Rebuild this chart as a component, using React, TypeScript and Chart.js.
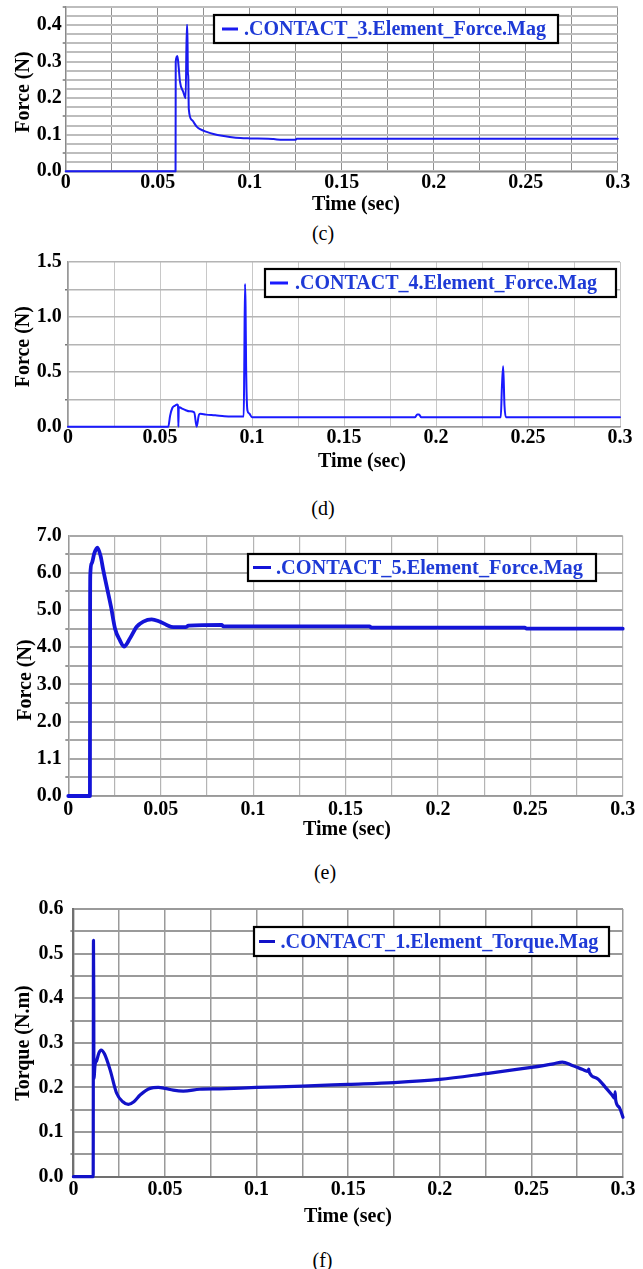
import React, { useEffect, useRef } from 'react';
import { Chart, registerables } from 'chart.js';

Chart.register(...registerables);

// ---------- shared axis labels ----------
const xTickLabels = ['0', '0.05', '0.1', '0.15', '0.2', '0.25', '0.3'];
const xTitle = 'Time (sec)';

// ---------- (c) CONTACT_3 ----------
const timeC = [0, 0.0597, 0.0598, 0.0607, 0.0614, 0.0621, 0.0639, 0.0652, 0.0658, 0.0661, 0.0664, 0.0666, 0.0669, 0.0686, 0.0712, 0.073, 0.077, 0.0803, 0.085, 0.0892, 0.095, 0.1, 0.11, 0.113, 0.118, 0.125, 0.1255, 0.15, 0.2, 0.25, 0.3];
const forceC = [0, 0, 0.30, 0.315, 0.285, 0.245, 0.217, 0.20, 0.40, 0.40, 0.27, 0.26, 0.17, 0.14, 0.122, 0.115, 0.107, 0.102, 0.097, 0.094, 0.091, 0.090, 0.089, 0.088, 0.086, 0.086, 0.089, 0.089, 0.089, 0.089, 0.089];
const yLabelsC = ['0.0', '0.1', '0.2', '0.3', '0.4'];
const legendC = '.CONTACT_3.Element_Force.Mag';

// ---------- (d) CONTACT_4 ----------
const timeD = [0, 0.0545, 0.0555, 0.0567, 0.058, 0.0594, 0.0598, 0.06, 0.0602, 0.062, 0.064, 0.066, 0.0686, 0.0699, 0.0712, 0.072, 0.075, 0.08, 0.085, 0.09, 0.0955, 0.0958, 0.0962, 0.0965, 0.0968, 0.0975, 0.0985, 0.1, 0.15, 0.1885, 0.1898, 0.1908, 0.192, 0.2352, 0.2358, 0.2365, 0.2372, 0.238, 0.3];
const forceD = [0, 0, 0.10, 0.17, 0.19, 0.203, 0.19, 0, 0.18, 0.165, 0.15, 0.14, 0.131, 0, 0.11, 0.118, 0.11, 0.104, 0.095, 0.093, 0.093, 0.55, 1.30, 1.10, 0.55, 0.15, 0.12, 0.085, 0.085, 0.085, 0.11, 0.11, 0.085, 0.085, 0.35, 0.55, 0.2, 0.085, 0.085];
const yLabelsD = ['0.0', '0.5', '1.0', '1.5'];
const legendD = '.CONTACT_4.Element_Force.Mag';

// ---------- (e) CONTACT_5 ----------
const timeE = [0, 0.0117, 0.0118, 0.0119, 0.0127, 0.0141, 0.0157, 0.0175, 0.0189, 0.0208, 0.0231, 0.0253, 0.028, 0.0301, 0.0334, 0.037, 0.0406, 0.0451, 0.049, 0.0532, 0.0568, 0.0635, 0.065, 0.083, 0.084, 0.163, 0.164, 0.247, 0.248, 0.3];
const forceE = [0, 0, 5.0, 5.95, 6.26, 6.53, 6.68, 6.45, 6.08, 5.63, 5.09, 4.5, 4.18, 4.02, 4.24, 4.55, 4.69, 4.75, 4.7, 4.6, 4.54, 4.54, 4.58, 4.6, 4.56, 4.56, 4.53, 4.53, 4.5, 4.5];
const yLabelsE = ['0.0', '1.1', '2.0', '3.0', '4.0', '5.0', '6.0', '7.0'];
const legendE = '.CONTACT_5.Element_Force.Mag';

// ---------- (f) CONTACT_1 torque ----------
const timeF = [0, 0.0108, 0.01095, 0.0111, 0.0112, 0.0118, 0.0127, 0.014, 0.0151, 0.017, 0.02, 0.0236, 0.027, 0.03, 0.033, 0.0364, 0.0418, 0.0463, 0.05, 0.0545, 0.06, 0.069, 0.08, 0.1, 0.125, 0.15, 0.175, 0.2, 0.225, 0.25, 0.262, 0.2669, 0.272, 0.278, 0.281, 0.2813, 0.2816, 0.286, 0.2909, 0.294, 0.2955, 0.2957, 0.296, 0.298, 0.3];
const torqueF = [0, 0, 0.53, 0.42, 0.22, 0.25, 0.26, 0.278, 0.284, 0.275, 0.24, 0.187, 0.168, 0.162, 0.168, 0.183, 0.198, 0.2, 0.198, 0.194, 0.192, 0.196, 0.197, 0.2, 0.203, 0.207, 0.211, 0.218, 0.231, 0.245, 0.253, 0.257, 0.25, 0.24, 0.236, 0.241, 0.234, 0.22, 0.198, 0.183, 0.175, 0.19, 0.172, 0.155, 0.133];
const yLabelsF = ['0.0', '0.1', '0.2', '0.3', '0.4', '0.5', '0.6'];
const legendF = '.CONTACT_1.Element_Torque.Mag';

const LEGEND_TEXT_COLOR = '#1e3ad6';

type Spec = {
  key: string;
  top: number;
  height: number;
  plot: { l: number; t: number; r: number; b: number };
  time: number[];
  values: number[];
  yMax: number;
  yStep: number;
  yLabelStep: number;
  yMarkStep: number;
  yLabels: string[];
  yTitle: string;
  legendText: string;
  legend: { x0: number; y0: number; x1: number; y1: number; d0: number; d1: number; tx: number; tw: number; cy: number };
  xt: [number, number];
  yt: [number, number];
  tickSize: number;
  titleSize: number;
  xPad: number;
  yPad: number;
  vColor: string;
  vWidth: number;
  hColor: string;
  hWidth: number;
  borderColor: string;
  borderWidth: number;
  lineColor: string;
  lineWidth: number;
};

const specs: Spec[] = [
  {
    key: 'c', top: 0, height: 222,
    plot: { l: 65.7, t: 6.7, r: 617.7, b: 171.3 },
    time: timeC, values: forceC,
    yMax: 0.45, yStep: 0.025, yLabelStep: 0.1, yMarkStep: 0.05, yLabels: yLabelsC,
    yTitle: 'Force (N)', legendText: legendC,
    legend: { x0: 214, y0: 15, x1: 558, y1: 43, d0: 222, d1: 238, tx: 244, tw: 302, cy: 29 },
    xt: [356, 205], yt: [24, 92],
    tickSize: 20, titleSize: 20, xPad: -0.6, yPad: 1,
    vColor: '#8f8f8f', vWidth: 1, hColor: '#bdbdbd', hWidth: 2,
    borderColor: '#8a8a8a', borderWidth: 1.5,
    lineColor: '#1a1af0', lineWidth: 2,
  },
  {
    key: 'd', top: 245, height: 230,
    plot: { l: 68, t: 262, r: 620, b: 426.7 },
    time: timeD, values: forceD,
    yMax: 1.5, yStep: 0.25, yLabelStep: 0.5, yMarkStep: 0.25, yLabels: yLabelsD,
    yTitle: 'Force (N)', legendText: legendD,
    legend: { x0: 265, y0: 269, x1: 616, y1: 297, d0: 270, d1: 288, tx: 295, tw: 302, cy: 283 },
    xt: [362, 461.7], yt: [24, 346.7],
    tickSize: 20, titleSize: 20, xPad: -0.4, yPad: 3.3,
    vColor: '#c8c8c8', vWidth: 1, hColor: '#b4b4b4', hWidth: 1.5,
    borderColor: '#999999', borderWidth: 1.5,
    lineColor: '#1a1aff', lineWidth: 2,
  },
  {
    key: 'e', top: 525, height: 320,
    plot: { l: 68.3, t: 535.7, r: 622.7, b: 796 },
    time: timeE, values: forceE,
    yMax: 7, yStep: 0.5, yLabelStep: 1, yMarkStep: 0.5, yLabels: yLabelsE,
    yTitle: 'Force (N)', legendText: legendE,
    legend: { x0: 248, y0: 554, x1: 596, y1: 581, d0: 253, d1: 271, tx: 276, tw: 307, cy: 567.5 },
    xt: [347, 830], yt: [26, 680],
    tickSize: 20, titleSize: 20, xPad: 2, yPad: 3.6,
    vColor: '#b4b4b4', vWidth: 1.2, hColor: '#a8a8a8', hWidth: 2,
    borderColor: '#999999', borderWidth: 1.5,
    lineColor: '#1414d8', lineWidth: 3.8,
  },
  {
    key: 'f', top: 895, height: 340,
    plot: { l: 73.4, t: 909, r: 623, b: 1176.7 },
    time: timeF, values: torqueF,
    yMax: 0.6, yStep: 0.05, yLabelStep: 0.1, yMarkStep: 0.05, yLabels: yLabelsF,
    yTitle: 'Torque (N.m)', legendText: legendF,
    legend: { x0: 254, y0: 927, x1: 609, y1: 956, d0: 259, d1: 275, tx: 280.5, tw: 318, cy: 941.5 },
    xt: [348, 1217], yt: [24, 1043],
    tickSize: 20, titleSize: 20, xPad: 1.3, yPad: 7,
    vColor: '#9a9a9a', vWidth: 1.5, hColor: '#9a9a9a', hWidth: 2,
    borderColor: '#707070', borderWidth: 2,
    lineColor: '#1212c8', lineWidth: 3.2,
  },
];

const subLabels = [
  { text: '(c)', x: 323, y: 233.3 },
  { text: '(d)', x: 323, y: 508.3 },
  { text: '(e)', x: 325, y: 872 },
  { text: '(f)', x: 322.5, y: 1260 },
];

const FONT = '"Liberation Serif", "Times New Roman", serif';

function isMultiple(v: number, step: number) {
  const k = v / step;
  return Math.abs(k - Math.round(k)) < 1e-6;
}

const decoPlugin = {
  id: 'deco',
  afterDraw(chart: any, _args: any, o: any) {
    const ctx: CanvasRenderingContext2D = chart.ctx;
    const dy = o.top;
    const L = o.legend;
    ctx.save();
    ctx.fillStyle = '#ffffff';
    ctx.fillRect(L.x0, L.y0 - dy, L.x1 - L.x0, L.y1 - L.y0);
    ctx.lineWidth = 2.2;
    ctx.strokeStyle = '#000000';
    ctx.strokeRect(L.x0, L.y0 - dy, L.x1 - L.x0, L.y1 - L.y0);
    ctx.strokeStyle = o.color;
    ctx.lineWidth = 3;
    ctx.lineCap = 'butt';
    ctx.beginPath();
    ctx.moveTo(L.d0, L.cy - dy);
    ctx.lineTo(L.d1, L.cy - dy);
    ctx.stroke();
    let size = 20;
    ctx.font = `bold ${size}px ${FONT}`;
    const w = ctx.measureText(o.text).width;
    if (w > 0) size = (size * L.tw) / w;
    ctx.font = `bold ${size}px ${FONT}`;
    ctx.fillStyle = LEGEND_TEXT_COLOR;
    ctx.textBaseline = 'middle';
    ctx.textAlign = 'left';
    ctx.fillText(o.text, L.tx, L.cy - dy + 1);

    ctx.fillStyle = '#000000';
    ctx.font = `bold ${o.titleSize}px ${FONT}`;
    ctx.textAlign = 'center';
    ctx.textBaseline = 'middle';
    ctx.fillText(o.xTitle, o.xt[0], o.xt[1] - dy);
    ctx.translate(o.yt[0], o.yt[1] - dy);
    ctx.rotate(-Math.PI / 2);
    ctx.fillText(o.yTitle, 0, 0);
    ctx.restore();
  },
};

function Panel({ s }: { s: Spec }) {
  const ref = useRef<HTMLCanvasElement>(null);
  useEffect(() => {
    const canvas = ref.current;
    if (!canvas) return;
    const tickFont = { family: FONT, weight: 'bold' as const, size: s.tickSize, lineHeight: 1.2 };
    const chart = new Chart(canvas, {
      type: 'line',
      data: {
        datasets: [
          {
            label: s.legendText,
            data: s.time.map((t, i) => ({ x: t, y: s.values[i] })),
            borderColor: s.lineColor,
            borderWidth: s.lineWidth,
            pointRadius: 0,
            cubicInterpolationMode: 'monotone',
            fill: false,
            borderJoinStyle: 'round',
            borderCapStyle: 'round',
            clip: false as any,
          },
        ],
      },
      options: {
        responsive: false,
        animation: false,
        events: [],
        layout: { padding: { left: 0, top: s.plot.t - s.top, right: 643 - s.plot.r, bottom: 0 } },
        plugins: {
          legend: { display: false },
          tooltip: { enabled: false },
          deco: {
            top: s.top,
            legend: s.legend,
            text: s.legendText,
            color: s.lineColor,
            xTitle,
            yTitle: s.yTitle,
            xt: s.xt,
            yt: s.yt,
            titleSize: s.titleSize,
          },
        } as any,
        scales: {
          x: {
            type: 'linear',
            min: 0,
            max: 0.3,
            afterBuildTicks: (scale: any) => {
              const ticks = [];
              for (let i = 0; i <= 12; i++) ticks.push({ value: i * 0.025 });
              scale.ticks = ticks;
            },
            afterFit: (scale: any) => {
              scale.height = s.top + s.height - s.plot.b;
              scale.paddingLeft = 0;
              scale.paddingRight = 0;
              scale.paddingTop = 0;
              scale.paddingBottom = 0;
            },
            ticks: {
              autoSkip: false,
              maxRotation: 0,
              minRotation: 0,
              padding: s.xPad,
              color: '#000000',
              font: tickFont,
              callback: (v: any) => {
                const n = Number(v);
                return isMultiple(n, 0.05) ? xTickLabels[Math.round(n / 0.05)] : '';
              },
            },
            grid: { color: s.vColor, lineWidth: s.vWidth, drawTicks: false },
            border: { color: s.borderColor, width: s.borderWidth },
          },
          y: {
            type: 'linear',
            min: 0,
            max: s.yMax,
            afterBuildTicks: (scale: any) => {
              const n = Math.round(s.yMax / s.yStep);
              const ticks = [];
              for (let i = 0; i <= n; i++) ticks.push({ value: i * s.yStep });
              scale.ticks = ticks;
            },
            afterFit: (scale: any) => {
              scale.width = s.plot.l;
              scale.paddingLeft = 0;
              scale.paddingRight = 0;
              scale.paddingTop = 0;
              scale.paddingBottom = 0;
            },
            ticks: {
              autoSkip: false,
              padding: s.yPad,
              color: '#000000',
              font: tickFont,
              callback: (v: any) => {
                const n = Number(v);
                return isMultiple(n, s.yLabelStep) ? s.yLabels[Math.round(n / s.yLabelStep)] ?? '' : '';
              },
            },
            grid: {
              color: s.hColor,
              lineWidth: s.hWidth,
              drawTicks: true,
              tickLength: 3,
              tickWidth: 1.5,
              tickColor: (c: any) => {
                const v = c.tick ? c.tick.value : 0;
                return isMultiple(v, s.yMarkStep) && !isMultiple(v, s.yLabelStep) ? '#777777' : 'rgba(0,0,0,0)';
              },
            },
            border: { color: s.borderColor, width: s.borderWidth },
          },
        },
      } as any,
      plugins: [decoPlugin as any],
    });
    return () => chart.destroy();
  }, [s]);
  return (
    <canvas
      ref={ref}
      width={643}
      height={s.height}
      style={{ position: 'absolute', left: 0, top: s.top, width: 643, height: s.height }}
    />
  );
}

export default function App() {
  return (
    <div style={{ position: 'absolute', left: 0, top: 0, width: 643, height: 1269, background: '#ffffff', overflow: 'hidden' }}>
      {specs.map((s) => (
        <Panel key={s.key} s={s} />
      ))}
      {subLabels.map((l) => (
        <div
          key={l.text}
          style={{
            position: 'absolute',
            left: l.x,
            top: l.y,
            transform: 'translate(-50%, -50%)',
            fontFamily: FONT,
            fontSize: 20,
            lineHeight: '22px',
            color: '#000000',
            whiteSpace: 'nowrap',
          }}
        >
          {l.text}
        </div>
      ))}
    </div>
  );
}
